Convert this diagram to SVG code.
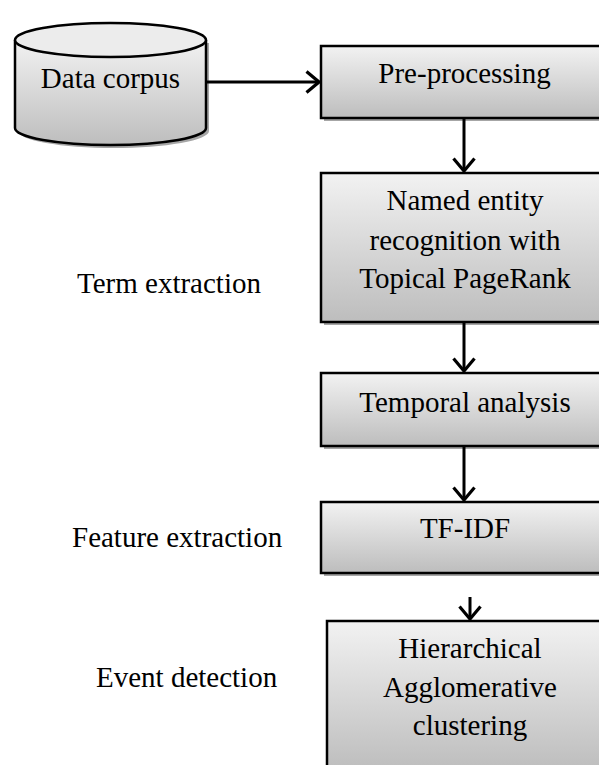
<svg xmlns="http://www.w3.org/2000/svg" width="599" height="765" viewBox="0 0 599 765">
<defs>
<linearGradient id="g" x1="0" y1="0" x2="0" y2="1">
<stop offset="0" stop-color="#f2f2f2"/>
<stop offset="1" stop-color="#bdbdbd"/>
</linearGradient>
<marker id="ah" viewBox="0 0 16 24" refX="14" refY="12" markerWidth="16" markerHeight="24" markerUnits="userSpaceOnUse" orient="auto">
<path d="M1.5,1.5 L14,12 L1.5,22.5" fill="none" stroke="#000" stroke-width="3.2"/>
</marker>
</defs>
<style>
.box{fill:url(#g);stroke:#000;stroke-width:2.5}
.sh{fill:#a6a6a6}
.c{fill:none;stroke:#000;stroke-width:3;marker-end:url(#ah)}
</style>
<rect width="599" height="765" fill="#fff"/>
<g font-family="Liberation Serif, Times New Roman, Times, serif" font-size="29" fill="#000">
<g id="data-corpus">
<path class="sh" d="M18,43 L18,131 A95.5,17 0 0 0 209,131 L209,43 Z"/>
<path class="box" d="M15,40 L15,128 A95.5,17 0 0 0 206,128 L206,40"/>
<ellipse cx="110.5" cy="40" rx="95.5" ry="17" fill="#ececec" stroke="#000" stroke-width="2.5"/>
<text text-anchor="middle" x="110.5" y="88">Data corpus</text>
</g>
<g id="preprocessing">
<rect class="sh" x="324" y="49" width="300" height="72"/>
<rect class="box" x="321" y="46" width="300" height="72"/>
<text text-anchor="middle" x="464.5" y="83">Pre-processing</text>
</g>
<g id="ner">
<rect class="sh" x="324" y="176" width="300" height="149"/>
<rect class="box" x="321" y="173" width="300" height="149"/>
<text text-anchor="middle" x="465" y="210">Named entity</text>
<text text-anchor="middle" x="465" y="250">recognition with</text>
<text text-anchor="middle" x="465" y="288">Topical PageRank</text>
</g>
<g id="temporal">
<rect class="sh" x="324" y="376" width="300" height="73"/>
<rect class="box" x="321" y="373" width="300" height="73"/>
<text text-anchor="middle" x="465" y="412">Temporal analysis</text>
</g>
<g id="tfidf">
<rect class="sh" x="324" y="505" width="300" height="71"/>
<rect class="box" x="321" y="502" width="300" height="71"/>
<text text-anchor="middle" x="465" y="538">TF-IDF</text>
</g>
<g id="hac">
<rect class="sh" x="330" y="624" width="300" height="150"/>
<rect class="box" x="327" y="621" width="300" height="150"/>
<text text-anchor="middle" x="470" y="658">Hierarchical</text>
<text text-anchor="middle" x="470" y="697">Agglomerative</text>
<text text-anchor="middle" x="470" y="735">clustering</text>
</g>
<g id="labels">
<text x="77" y="293">Term extraction</text>
<text x="72" y="547">Feature extraction</text>
<text x="96" y="687">Event detection</text>
</g>
</g>
<g id="connectors">
<line class="c" x1="206" y1="82" x2="319" y2="82"/>
<line class="c" x1="464" y1="118" x2="464" y2="171"/>
<line class="c" x1="464" y1="322" x2="464" y2="371"/>
<line class="c" x1="464" y1="446" x2="464" y2="500"/>
<line class="c" x1="470" y1="597" x2="470" y2="619"/>
</g>
</svg>
